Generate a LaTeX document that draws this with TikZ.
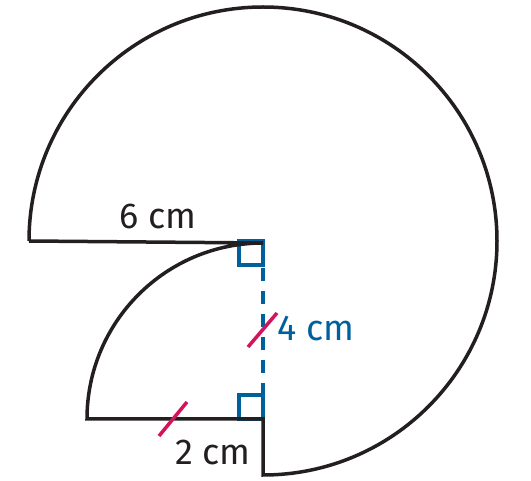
\documentclass[tikz,border=0pt]{standalone}
\usepackage{fontspec}
\setmainfont{Fira Sans}
\definecolor{ink}{HTML}{231F20}
\definecolor{mblue}{HTML}{00609C}
\definecolor{mpink}{HTML}{D4145A}
\begin{document}
\begin{tikzpicture}[x=1pt,y=-1pt,
  outline/.style={draw=ink,line width=3.5pt,line join=miter},
  bluemark/.style={draw=mblue,line width=3.5pt},
  tickmark/.style={draw=mpink,line width=3.5pt},
  lbl/.style={font=\fontsize{36}{40}\selectfont,inner sep=0pt}]
\useasboundingbox (0,0) rectangle (531,481);
\coordinate (O) at (263,241);
\coordinate (L) at (29,241);
\coordinate (B) at (263,475);
\coordinate (C) at (263,419);
\coordinate (D) at (87,419);
\draw[bluemark,dash pattern=on 13pt off 10pt,dash phase=-4pt] (O) -- (C);
\draw[bluemark] (263,241) rectangle (239,265);
\draw[bluemark] (263,395) rectangle (239,419);
\draw[outline] (L) arc[start angle=180,end angle=450,radius=234] -- (C) -- (D)
  arc[start angle=180,end angle=270,radius=176] -- (L);
\draw[tickmark] (248,347) -- (277,313);
\draw[tickmark] (159,436) -- (187,402);
\node[lbl,text=ink] (t6) at (158,216) {6 cm};
\node[lbl,text=mblue] (t4) at (316,328) {4 cm};
\node[lbl,text=ink] (t2) at (213,452) {2 cm};
\end{tikzpicture}
\end{document}
